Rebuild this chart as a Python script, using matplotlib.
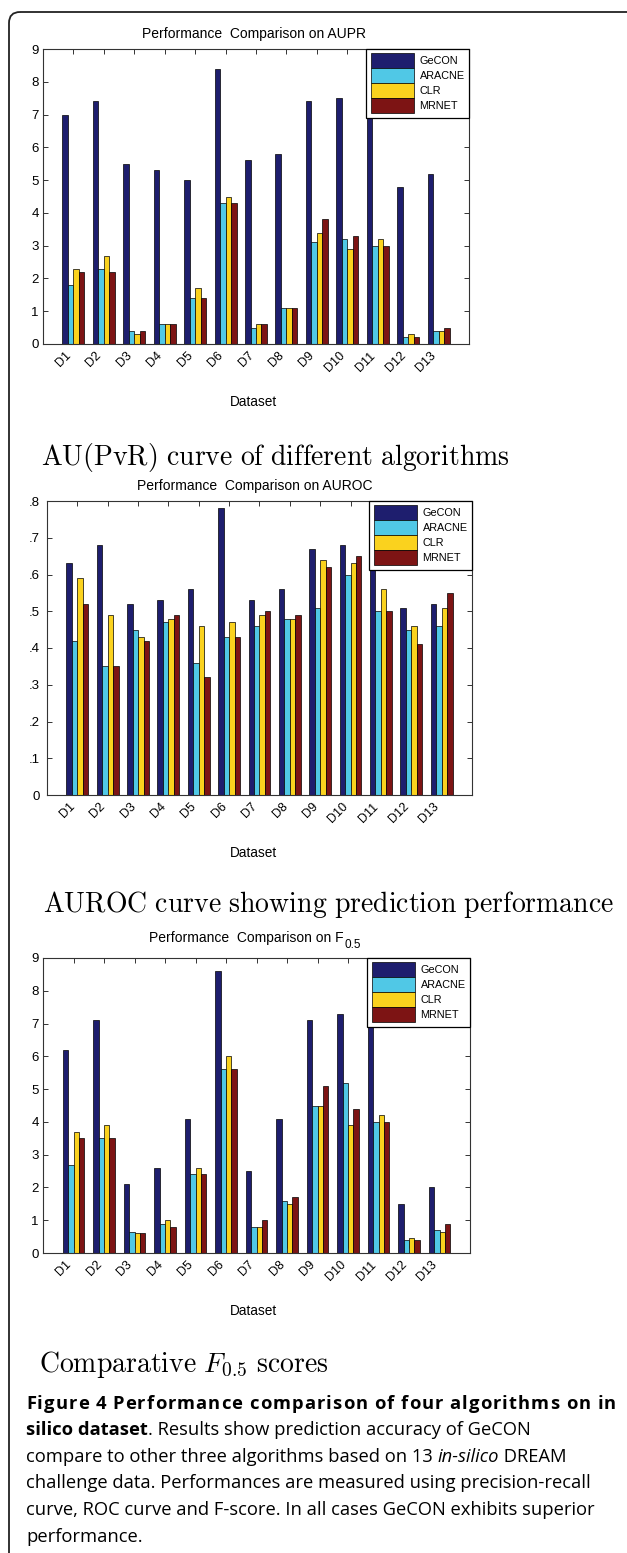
import matplotlib
matplotlib.use('Agg')
import matplotlib.pyplot as plt
import numpy as np
from matplotlib.patches import FancyBboxPatch

plt.rcParams['font.family'] = ['Liberation Sans', 'DejaVu Sans']
plt.rcParams['mathtext.fontset'] = 'cm'

W, H = 627, 1553

datasets = ['D1', 'D2', 'D3', 'D4', 'D5', 'D6', 'D7', 'D8', 'D9', 'D10', 'D11', 'D12', 'D13']
methods = ['GeCON', 'ARACNE', 'CLR', 'MRNET']
colors = ['#1e1e6e', '#50c8e6', '#fad21e', '#7d1414']

# AUPR (axis labels 0..9)
aupr_gecon = [7.0, 7.4, 5.5, 5.3, 5.0, 8.4, 5.6, 5.8, 7.4, 7.5, 7.2, 4.8, 5.2]
aupr_aracne = [1.8, 2.3, 0.4, 0.6, 1.4, 4.3, 0.5, 1.1, 3.1, 3.2, 3.0, 0.2, 0.4]
aupr_clr = [2.3, 2.7, 0.3, 0.6, 1.7, 4.5, 0.6, 1.1, 3.4, 2.9, 3.2, 0.3, 0.4]
aupr_mrnet = [2.2, 2.2, 0.4, 0.6, 1.4, 4.3, 0.6, 1.1, 3.8, 3.3, 3.0, 0.2, 0.5]

# AUROC
auroc_gecon = [0.63, 0.68, 0.52, 0.53, 0.56, 0.78, 0.53, 0.56, 0.67, 0.68, 0.64, 0.51, 0.52]
auroc_aracne = [0.42, 0.35, 0.45, 0.47, 0.36, 0.43, 0.46, 0.48, 0.51, 0.60, 0.50, 0.45, 0.46]
auroc_clr = [0.59, 0.49, 0.43, 0.48, 0.46, 0.47, 0.49, 0.48, 0.64, 0.63, 0.56, 0.46, 0.51]
auroc_mrnet = [0.52, 0.35, 0.42, 0.49, 0.32, 0.43, 0.50, 0.49, 0.62, 0.65, 0.50, 0.41, 0.55]

# F0.5
f05_gecon = [6.2, 7.1, 2.1, 2.6, 4.1, 8.6, 2.5, 4.1, 7.1, 7.3, 7.2, 1.5, 2.0]
f05_aracne = [2.7, 3.5, 0.65, 0.9, 2.4, 5.6, 0.8, 1.6, 4.5, 5.2, 4.0, 0.4, 0.7]
f05_clr = [3.7, 3.9, 0.6, 1.0, 2.6, 6.0, 0.8, 1.5, 4.5, 3.9, 4.2, 0.45, 0.65]
f05_mrnet = [3.5, 3.5, 0.6, 0.8, 2.4, 5.6, 1.0, 1.7, 5.1, 4.4, 4.0, 0.4, 0.9]

aupr_ticks = ['0', '1', '2', '3', '4', '5', '6', '7', '8', '9']
auroc_ticks = ['0', '.1', '.2', '.3', '.4', '.5', '.6', '.7', '.8']


fig = plt.figure(figsize=(W / 100, H / 100), dpi=100)

# rounded frame around the figure (only top/left visible)
bg = fig.add_axes([0, 0, 1, 1])
bg.set_xlim(0, W)
bg.set_ylim(H, 0)
bg.axis('off')
bg.add_patch(FancyBboxPatch((9, 12), 900, 1800, boxstyle='round,pad=0,rounding_size=11',
                            fill=False, lw=1.3, ec='#222222'))


def px_axes(l, t, r, b):
    return fig.add_axes([l / W, 1 - b / H, (r - l) / W, (b - t) / H])


def grouped(ax, series, ymax, yticklabels, ypad):
    x = np.arange(1, len(datasets) + 1)
    w = 0.18
    offs = [-1.5 * w, -0.5 * w, 0.5 * w, 1.5 * w]
    for s, o, c, m in zip(series, offs, colors, methods):
        ax.bar(x + o, s, w, color=c, edgecolor='black', linewidth=0.5, label=m)
    ax.set_xlim(0, 14)
    ax.set_ylim(0, ymax)
    ax.set_xticks(x)
    ax.set_xticklabels(datasets, rotation=45, ha='right', fontsize=9)
    ax.set_yticks(np.linspace(0, ymax, len(yticklabels)))
    ax.set_yticklabels(yticklabels, fontsize=9.5)
    ax.tick_params(direction='in', top=True, right=True, length=3.5, width=0.7, color='#333333')
    ax.tick_params(axis='y', pad=ypad)
    ax.tick_params(axis='x', pad=4)
    for sp in ax.spines.values():
        sp.set_linewidth(0.8)
        sp.set_color('#333333')
    leg = ax.legend(loc='upper right', borderaxespad=0, fontsize=7.8, handlelength=4.0,
                    handleheight=1.75, labelspacing=0.0, borderpad=0.4, handletextpad=0.5,
                    fancybox=False, edgecolor='black', framealpha=1)
    leg.get_frame().set_linewidth(0.9)
    return ax


ax1 = px_axes(43, 49, 469, 344)
grouped(ax1, [aupr_gecon, aupr_aracne, aupr_clr, aupr_mrnet], 9, aupr_ticks, 3)
ax2 = px_axes(47, 501, 472, 795)
grouped(ax2, [auroc_gecon, auroc_aracne, auroc_clr, auroc_mrnet], 0.8, auroc_ticks, 5)
ax3 = px_axes(43, 958, 470, 1253)
grouped(ax3, [f05_gecon, f05_aracne, f05_clr, f05_mrnet], 9, aupr_ticks, 3)

renderer = fig.canvas.get_renderer()


def ftext(x, y, s, **kw):
    return fig.text(x / W, 1 - y / H, s, **kw)


ftext(254, 34, 'Performance  Comparison on AUPR', ha='center', va='center', fontsize=10)
ftext(255, 486, 'Performance  Comparison on AUROC', ha='center', va='center', fontsize=10)
t3 = ftext(149, 938, 'Performance  Comparison on F', va='center', fontsize=10)
ftext(t3.get_window_extent(renderer).x1 + 1, 945, '0.5', va='center', fontsize=8.5)

for yy in (402, 853, 1311):
    ftext(253, yy, 'Dataset', ha='center', va='center', fontsize=9.8)

ftext(41, 457, r'$\mathrm{AU(PvR)\ curve\ of\ different\ algorithms}$', va='center', fontsize=20)
ftext(43, 905, r'$\mathrm{AUROC\ curve\ showing\ prediction\ performance}$', va='center', fontsize=20)
ftext(39, 1365, r'$\mathrm{Comparative}\ F_{0.5}\ \mathrm{scores}$', va='center', fontsize=20)

# figure caption, with mixed bold / italic runs
cap_font = ['Open Sans', 'DejaVu Sans']
cap_size = 13.2


def runs(x, y, parts):
    for s, wt, st in parts:
        t = ftext(x, y, s, va='center', fontsize=cap_size, family=cap_font, weight=wt, style=st)
        x += t.get_window_extent(renderer).width


def tracked(x0, x1, y, s, wt):
    # spread the letters out (letter spacing) so the line fills x0..x1
    probe = ftext(0, -50, '|', fontsize=cap_size, family=cap_font, weight=wt)
    bar_w = probe.get_window_extent(renderer).width

    def prefix(i):
        probe.set_text(s[:i] + '|')
        return probe.get_window_extent(renderer).width - bar_w

    pos = [prefix(i) for i in range(len(s) + 1)]
    probe.remove()
    extra = (x1 - x0 - pos[-1]) / (len(s) - 1)
    for i, ch in enumerate(s):
        if ch != ' ':
            ftext(x0 + pos[i] + i * extra, y, ch, va='center', fontsize=cap_size,
                  family=cap_font, weight=wt)


tracked(26, 616, 1404, 'Figure 4 Performance comparison of four algorithms on in', 'bold')
runs(26, 1430, [('silico dataset', 'bold', 'normal'),
                ('. Results show prediction accuracy of GeCON', 'normal', 'normal')])
runs(26, 1457, [('compare to other three algorithms based on 13 ', 'normal', 'normal'),
                ('in-silico', 'normal', 'italic'),
                (' DREAM', 'normal', 'normal')])
runs(26, 1483, [('challenge data. Performances are measured using precision-recall', 'normal', 'normal')])
runs(26, 1510, [('curve, ROC curve and F-score. In all cases GeCON exhibits superior', 'normal', 'normal')])
runs(26, 1537, [('performance.', 'normal', 'normal')])

fig.savefig('out.png', dpi=100)
